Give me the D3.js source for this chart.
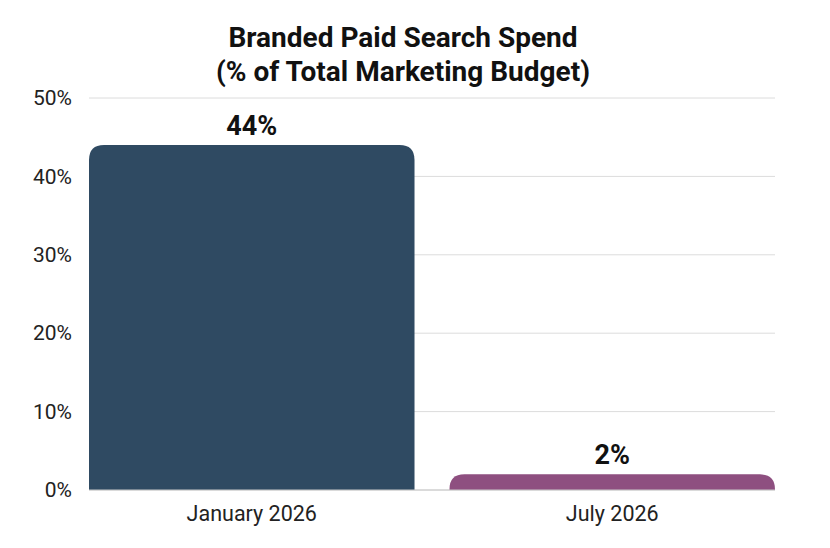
<!DOCTYPE html>
<html>
<head>
<meta charset="utf-8">
<script src="https://cdn.jsdelivr.net/npm/d3@7"></script>
<style>
  body { margin: 0; background: #fff; }
  text { font-family: Roboto, "Noto Sans", sans-serif; }
</style>
</head>
<body>
<div id="chart"></div>
<script>
// data
const categories = ["January 2026", "July 2026"]
const values = [44, 2]
const barColors = ["#2f4a62", "#8e4f80"]
const yTicks = [0, 10, 20, 30, 40, 50]

const width = 830
const height = 548
const margin = { top: 98, right: 55, bottom: 58, left: 89 }

const svg = d3.select("#chart").append("svg")
  .attr("width", width)
  .attr("height", height)

const g = svg.append("g")
  .attr("transform", `translate(${margin.left},${margin.top})`)

const innerW = width - margin.left - margin.right
const innerH = height - margin.top - margin.bottom

const x = d3.scaleBand()
  .domain(categories)
  .range([0, innerW])
  .paddingInner(0.097)
  .paddingOuter(0)

const y = d3.scaleLinear()
  .domain([0, 50])
  .range([innerH, 0])

// grid
g.append("g")
  .selectAll("line")
  .data(yTicks)
  .join("line")
  .attr("x1", 0)
  .attr("x2", innerW)
  .attr("y1", d => y(d))
  .attr("y2", d => y(d))
  .attr("stroke", "#dcdcdc")
  .attr("stroke-width", 1)

// y axis
const yAxis = d3.axisLeft(y).tickValues(yTicks).tickFormat(d => d + "%").tickSize(0).tickPadding(17)
g.append("g").call(yAxis)
  .call(a => a.select(".domain").remove())
  .selectAll("text")
  .attr("font-size", 21)
  .attr("fill", "#222")
  .style("font-family", "Roboto, sans-serif")

// bars with rounded top corners
const r = 15
function barPath(d, i) {
  const x0 = x(categories[i])
  const x1 = x0 + x.bandwidth()
  const y0 = y(0)
  const yt = y(d)
  const rr = Math.min(r, (y0 - yt))
  return `M${x0},${y0} L${x0},${yt + rr} Q${x0},${yt} ${x0 + rr},${yt} L${x1 - rr},${yt} Q${x1},${yt} ${x1},${yt + rr} L${x1},${y0} Z`
}
g.selectAll(".bar")
  .data(values)
  .join("path")
  .attr("class", "bar")
  .attr("d", barPath)
  .attr("fill", (d, i) => barColors[i])

// baseline
g.append("line")
  .attr("x1", 0).attr("x2", innerW)
  .attr("y1", y(0)).attr("y2", y(0))
  .attr("stroke", "#c8c8c8")

// value labels
g.selectAll(".val")
  .data(values)
  .join("text")
  .attr("class", "val")
  .attr("x", (d, i) => x(categories[i]) + x.bandwidth() / 2)
  .attr("y", d => y(d) - 10)
  .attr("text-anchor", "middle")
  .attr("font-size", 27)
  .attr("font-weight", "bold")
  .attr("fill", "#111")
  .text(d => d + "%")

// x axis
const xAxis = d3.axisBottom(x).tickSize(0).tickPadding(16)
g.append("g")
  .attr("transform", `translate(0,${innerH})`)
  .call(xAxis)
  .call(a => a.select(".domain").remove())
  .selectAll("text")
  .attr("font-size", 21.5)
  .attr("fill", "#222")
  .style("font-family", "Roboto, sans-serif")

// title
const title = svg.append("text")
  .attr("x", 403)
  .attr("text-anchor", "middle")
  .attr("font-size", 28)
  .attr("font-weight", "bold")
  .attr("fill", "#111")
title.append("tspan").attr("x", 403).attr("y", 47).text("Branded Paid Search Spend")
title.append("tspan").attr("x", 403).attr("y", 81).text("(% of Total Marketing Budget)")
</script>
</body>
</html>
